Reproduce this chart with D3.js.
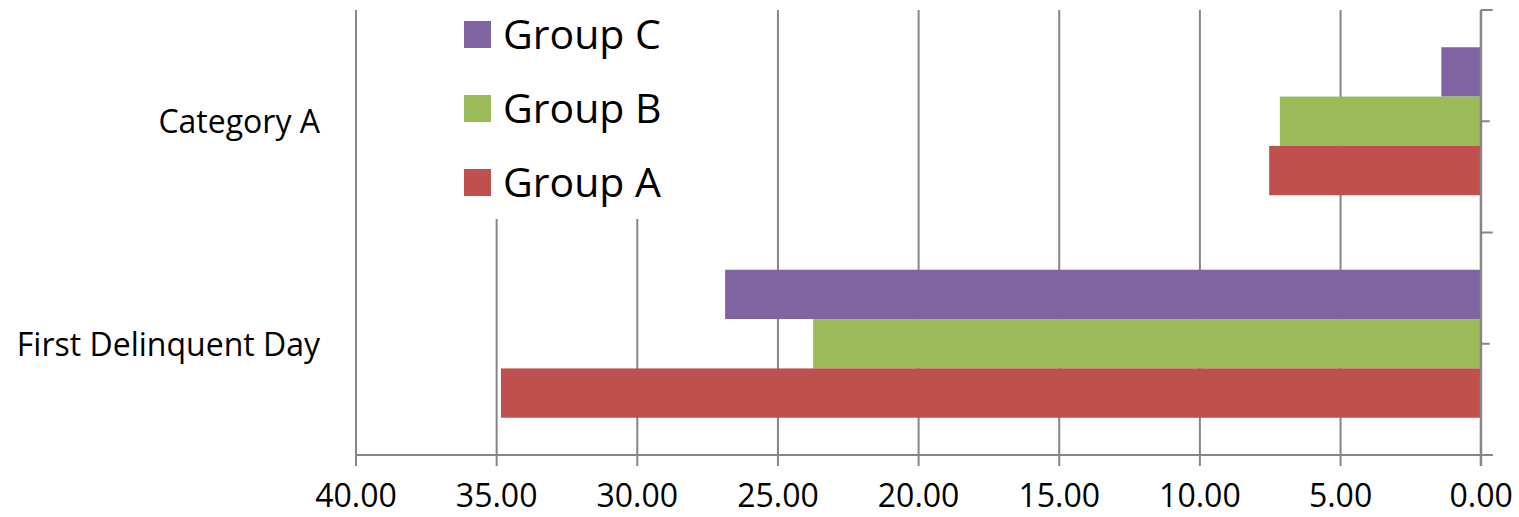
<!DOCTYPE html>
<html>
<head>
<meta charset="utf-8">
<script src="https://cdn.jsdelivr.net/npm/d3@7"></script>
<style>
  body { margin: 0; background: #fff; }
  text { font-family: "Open Sans", "Noto Sans", sans-serif; fill: #000; }
</style>
</head>
<body>
<svg id="chart"></svg>
<script>
// chart values
const categories = ["Category A", "First Delinquent Day"];
const groups = ["Group C", "Group B", "Group A"];
const groupA = [7.52, 34.83];
const groupB = [7.14, 23.73];
const groupC = [1.40, 26.86];
const xTicks = [40, 35, 30, 25, 20, 15, 10, 5, 0];

const colors = { "Group A": "#C0504D", "Group B": "#9BBB59", "Group C": "#8064A2" };
const seriesValues = { "Group A": groupA, "Group B": groupB, "Group C": groupC };

const config = {
  containerWidth: 1519,
  containerHeight: 517,
  margin: { top: 10, bottom: 62, right: 38.3, left: 355.5 }
};

const width = config.containerWidth - config.margin.left - config.margin.right;
const height = config.containerHeight - config.margin.top - config.margin.bottom;

const svg = d3.select('#chart')
    .attr('width', config.containerWidth)
    .attr('height', config.containerHeight);

const chart = svg.append('g')
    .attr('transform', `translate(${config.margin.left},${config.margin.top})`);

// reversed value axis: 40 on the left, 0 on the right
const xScale = d3.scaleLinear()
    .domain([0, 40])
    .range([width, 0]);

const yScale = d3.scaleBand()
    .domain(categories)
    .range([0, height])
    .padding(0);

const yInner = d3.scaleBand()
    .domain(groups)
    .range([0, yScale.bandwidth()])
    .paddingInner(0)
    .paddingOuter(0.755);

// gridlines
chart.append('g')
    .attr('class', 'grid')
    .call(d3.axisBottom(xScale).tickValues(xTicks).tickSize(height).tickFormat(''))
    .call(g => g.select('.domain').remove())
    .call(g => g.selectAll('line').attr('stroke', '#868686').attr('stroke-width', 2));

// bars
const rows = [];
categories.forEach((c, i) => {
  groups.forEach(gName => rows.push({ cat: c, group: gName, value: seriesValues[gName][i] }));
});

chart.selectAll('.bar')
    .data(rows)
    .join('rect')
      .attr('class', 'bar')
      .attr('x', d => xScale(d.value))
      .attr('y', d => yScale(d.cat) + yInner(d.group))
      .attr('width', d => xScale(0) - xScale(d.value))
      .attr('height', yInner.bandwidth())
      .attr('fill', d => colors[d.group]);

// bottom axis
const xAxisG = chart.append('g')
    .attr('transform', `translate(0,${height})`)
    .call(d3.axisBottom(xScale).tickValues(xTicks).tickSize(11).tickFormat(d3.format('.2f')));
xAxisG.select('.domain').remove();
xAxisG.selectAll('line').attr('stroke', '#868686').attr('stroke-width', 2);
xAxisG.selectAll('text')
    .attr('y', 52)
    .attr('dy', 0)
    .style('font-size', '32px');
xAxisG.append('line')
    .attr('x1', 0).attr('x2', width + 12)
    .attr('y1', 0).attr('y2', 0)
    .attr('stroke', '#868686').attr('stroke-width', 2);

// category axis on the right
const yAxisG = chart.append('g')
    .attr('transform', `translate(${width},0)`);
yAxisG.append('line')
    .attr('x1', 0).attr('x2', 0)
    .attr('y1', 0).attr('y2', height + 11)
    .attr('stroke', '#868686').attr('stroke-width', 2);
const bounds = categories.map(c => yScale(c)).concat([height]);
yAxisG.selectAll('.bound')
    .data(bounds)
    .join('line')
      .attr('x1', 0).attr('x2', 12)
      .attr('y1', d => d).attr('y2', d => d)
      .attr('stroke', '#868686').attr('stroke-width', 2);
yAxisG.selectAll('.mid')
    .data(categories)
    .join('line')
      .attr('x1', 0).attr('x2', 9)
      .attr('y1', d => yScale(d) + yScale.bandwidth() / 2)
      .attr('y2', d => yScale(d) + yScale.bandwidth() / 2)
      .attr('stroke', '#868686').attr('stroke-width', 2);

// category labels on the left
svg.selectAll('.catlabel')
    .data(categories)
    .join('text')
      .attr('class', 'catlabel')
      .attr('x', 320)
      .attr('y', d => config.margin.top + yScale(d) + yScale.bandwidth() / 2 + 12)
      .attr('text-anchor', 'end')
      .style('font-size', '32px')
      .text(d => d);

// legend
const legend = svg.append('g');
legend.append('rect')
    .attr('x', 445).attr('y', 0)
    .attr('width', 250).attr('height', 219)
    .attr('fill', '#fff');
legend.selectAll('.legsw')
    .data(groups)
    .join('rect')
      .attr('x', 464)
      .attr('y', (d, i) => 21 + i * 74)
      .attr('width', 27).attr('height', 27)
      .attr('fill', d => colors[d]);
legend.selectAll('.legtxt')
    .data(groups)
    .join('text')
      .attr('x', 503)
      .attr('y', (d, i) => 49 + i * 74)
      .style('font-size', '41px')
      .text(d => d);
</script>
</body>
</html>
